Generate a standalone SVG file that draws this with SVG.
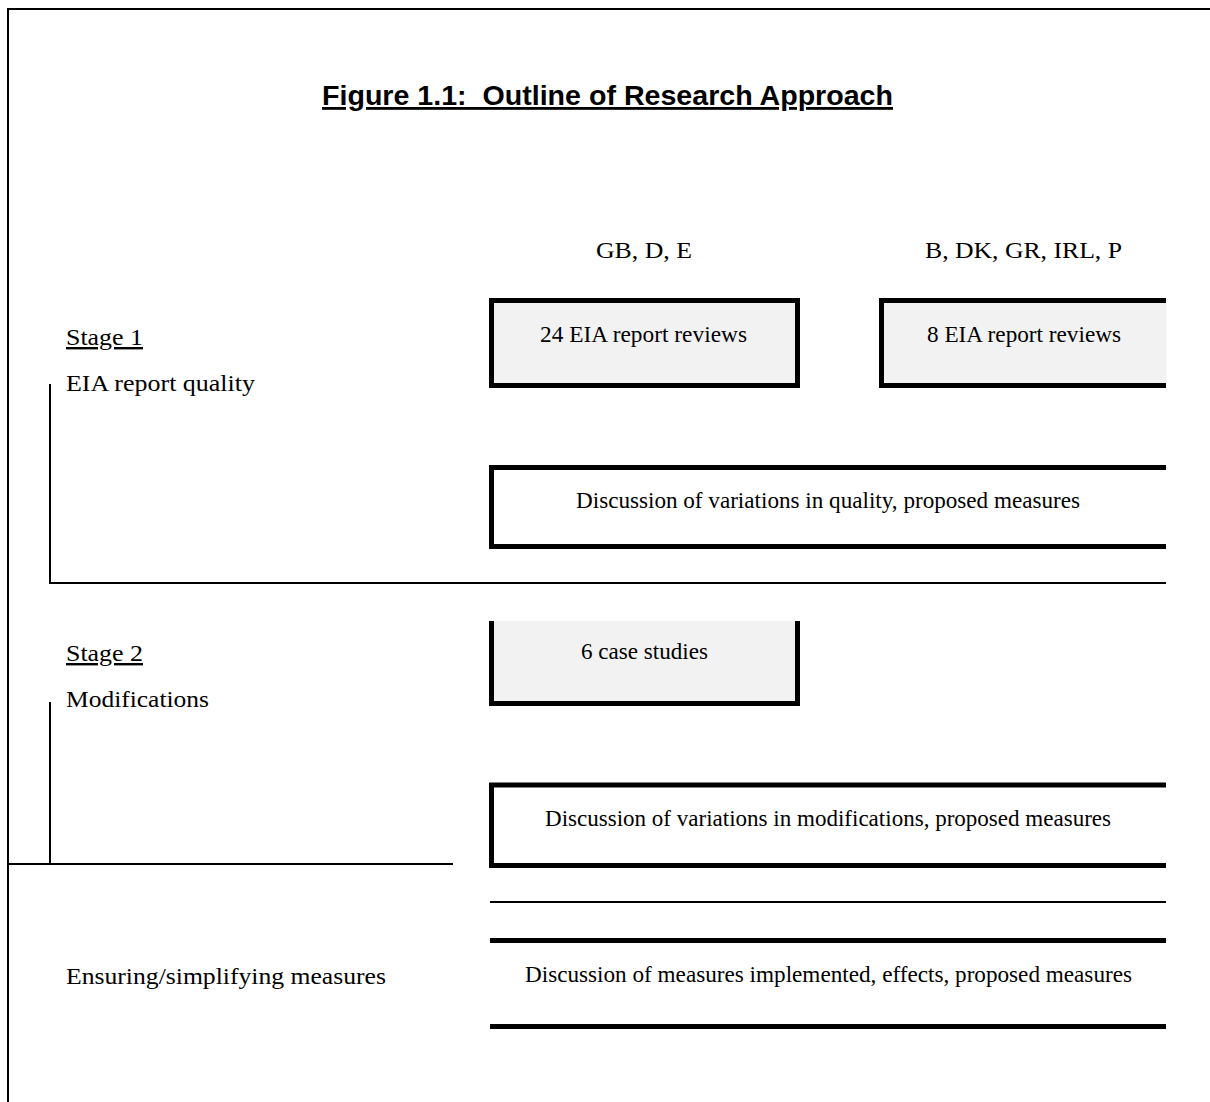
<svg xmlns="http://www.w3.org/2000/svg" width="1210" height="1102" viewBox="0 0 1210 1102">
<style>
.t{font-family:"Liberation Serif","Times New Roman",serif;font-size:24px;fill:#000}
.c{text-anchor:middle}
.u{text-decoration:underline}
.title{font-family:"Liberation Sans",Arial,sans-serif;font-size:28px;font-weight:bold;text-anchor:middle;text-decoration:underline;white-space:pre}
.thick{stroke:#000;stroke-width:5;fill:none}
.thin{stroke:#000;stroke-width:2;fill:none}
.grey{fill:#f2f2f2}
</style>
<rect width="1210" height="1102" fill="#fff"/>
<g id="frame">
<path class="thin" d="M8,1102 V9 H1210"/>
</g>
<text class="title" x="607.5" y="105" xml:space="preserve" textLength="571" lengthAdjust="spacingAndGlyphs">Figure 1.1:  Outline of Research Approach</text>
<g id="labels">
<text class="t c" x="644" y="258" textLength="96" lengthAdjust="spacingAndGlyphs">GB, D, E</text>
<text class="t c" x="1023.5" y="258" textLength="197" lengthAdjust="spacingAndGlyphs">B, DK, GR, IRL, P</text>
<text class="t u" x="66" y="345" textLength="77" lengthAdjust="spacingAndGlyphs">Stage 1</text>
<text class="t" x="66" y="391" textLength="189" lengthAdjust="spacingAndGlyphs">EIA report quality</text>
<text class="t u" x="66" y="661" textLength="77" lengthAdjust="spacingAndGlyphs">Stage 2</text>
<text class="t" x="66" y="707" textLength="143" lengthAdjust="spacingAndGlyphs">Modifications</text>
<text class="t" x="66" y="984" textLength="320" lengthAdjust="spacingAndGlyphs">Ensuring/simplifying measures</text>
</g>
<g id="connectors">
<path class="thin" d="M50,384 V583 H1166"/>
<path class="thin" d="M50,702 V864"/>
<path class="thin" d="M8,864 H453"/>
<path class="thin" d="M490,902 H1166"/>
</g>
<g id="node-24eia">
<rect class="grey" x="491.5" y="300.5" width="306" height="85"/>
<rect class="thick" x="491.5" y="300.5" width="306" height="85"/>
<text class="t c" x="643.5" y="342" textLength="207" lengthAdjust="spacingAndGlyphs">24 EIA report reviews</text>
</g>
<g id="node-8eia">
<rect class="grey" x="881.5" y="300.5" width="285" height="85"/>
<path class="thick" d="M1166,300.5 H881.5 V385.5 H1166"/>
<text class="t c" x="1024" y="342" textLength="194" lengthAdjust="spacingAndGlyphs">8 EIA report reviews</text>
</g>
<g id="node-disc-quality">
<path class="thick" d="M1166,467.5 H491.5 V546.5 H1166"/>
<text class="t c" x="828" y="508" textLength="504" lengthAdjust="spacingAndGlyphs">Discussion of variations in quality, proposed measures</text>
</g>
<g id="node-case">
<rect class="grey" x="491.5" y="621" width="306" height="82.5"/>
<path class="thick" d="M491.5,621 V703.5 H797.5 V621"/>
<text class="t c" x="644.5" y="659" textLength="127" lengthAdjust="spacingAndGlyphs">6 case studies</text>
</g>
<g id="node-disc-mod">
<path class="thick" d="M1166,785 H491.5 V865.5 H1166"/>
<text class="t c" x="828" y="826" textLength="566" lengthAdjust="spacingAndGlyphs">Discussion of variations in modifications, proposed measures</text>
</g>
<g id="node-disc-measures">
<path class="thick" d="M490,940.5 H1166 M490,1026.5 H1166"/>
<text class="t c" x="828.5" y="982" textLength="607" lengthAdjust="spacingAndGlyphs">Discussion of measures implemented, effects, proposed measures</text>
</g>
</svg>
